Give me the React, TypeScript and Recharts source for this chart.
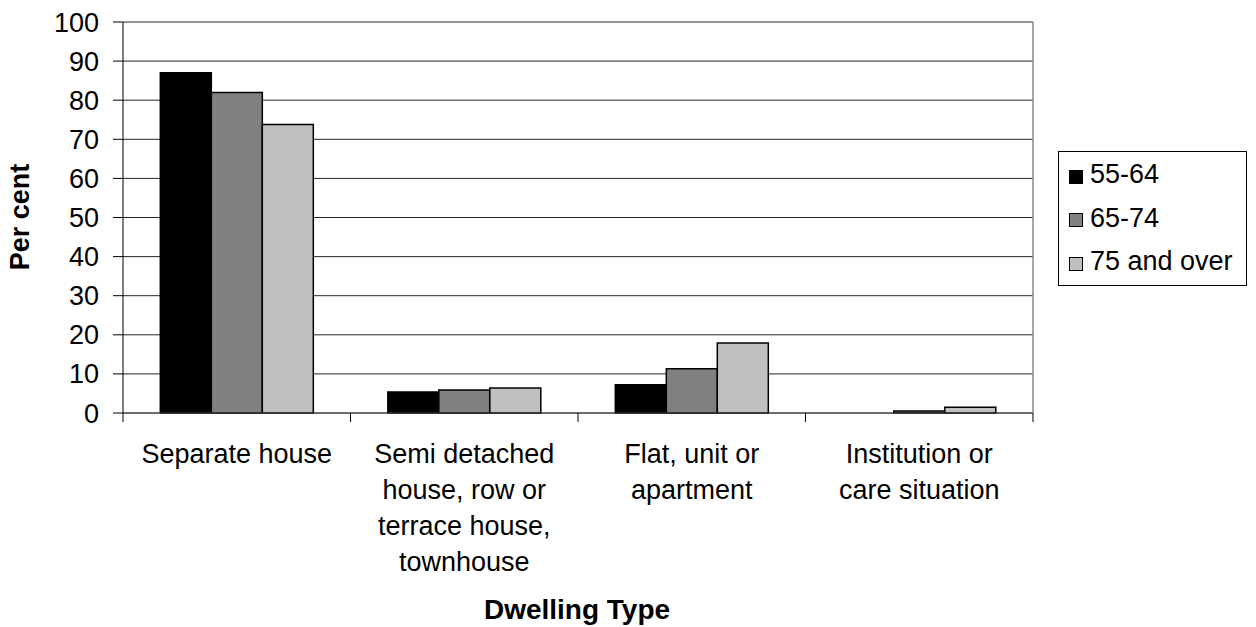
import React from "react";
import { BarChart, Bar, XAxis, YAxis, CartesianGrid } from "recharts";

const categories = [
  "Separate house",
  "Semi detached house, row or terrace house, townhouse",
  "Flat, unit or apartment",
  "Institution or care situation",
];
const categoryLines = [
  ["Separate house"],
  ["Semi detached", "house, row or", "terrace house,", "townhouse"],
  ["Flat, unit or", "apartment"],
  ["Institution or", "care situation"],
];
const age5564 = [87, 5.4, 7.2, 0];
const age6574 = [82, 5.9, 11.3, 0.5];
const age75plus = [73.8, 6.4, 17.9, 1.5];
const yTicks = [0, 10, 20, 30, 40, 50, 60, 70, 80, 90, 100];

const series = [
  { key: "a", name: "55-64", color: "#000000" },
  { key: "b", name: "65-74", color: "#808080" },
  { key: "c", name: "75 and over", color: "#c0c0c0" },
];

const data = categories.map((c, i) => ({
  cat: c,
  a: age5564[i],
  b: age6574[i],
  c: age75plus[i],
}));

const FONT = "Liberation Sans, Arial, sans-serif";
const FS = 27;

function CatTick(props: any) {
  const { x, y, payload, index, visibleTicksCount, width } = props;
  const n = visibleTicksCount || categories.length;
  const band = width ? width / n : 227.5;
  const idx = categories.indexOf(payload.value);
  const lines = categoryLines[idx] || [payload.value];
  return (
    <g>
      <line x1={x - band / 2} x2={x - band / 2} y1={y} y2={y + 9} stroke="#000" />
      {index === n - 1 && (
        <line x1={x + band / 2} x2={x + band / 2} y1={y} y2={y + 9} stroke="#000" />
      )}
      <text x={x} y={y} textAnchor="middle" fontFamily={FONT} fontSize={FS} fill="#000">
        {lines.map((l, i) => (
          <tspan key={i} x={x} dy={i === 0 ? 50 : 36}>
            {l}
          </tspan>
        ))}
      </text>
    </g>
  );
}

function LegendBox() {
  return (
    <div
      style={{
        position: "absolute",
        left: 1058,
        top: 151,
        border: "1px solid #000",
        width: 189,
        height: 135,
        boxSizing: "border-box",
        padding: "1px 0 0 10px",
        fontFamily: FONT,
        fontSize: FS,
        background: "#fff",
      }}
    >
      {series.map((s) => (
        <div key={s.key} style={{ display: "flex", alignItems: "center", height: 43.5 }}>
          <span
            style={{
              display: "inline-block",
              width: 14,
              height: 14,
              boxSizing: "border-box",
              background: s.color,
              border: "1.5px solid #000",
              marginRight: 7,
              marginTop: 4,
            }}
          />
          <span>{s.name}</span>
        </div>
      ))}
    </div>
  );
}

export default function App() {
  return (
    <div style={{ position: "absolute", left: 0, top: 0, width: 1256, height: 627, background: "#fff" }}>
      <BarChart
        width={1256}
        height={627}
        data={data}
        margin={{ top: 22, right: 213, bottom: 184, left: 63 }}
        barCategoryGap="16.4%"
        barGap={0}
      >
        <CartesianGrid vertical={false} stroke="#000" strokeOpacity={0.85} />
        <XAxis
          dataKey="cat"
          interval={0}
          tickLine={false}
          tickSize={0}
          tickMargin={0}
          axisLine={{ stroke: "#444" }}
          tick={<CatTick />}
          height={30}
        />
        <YAxis
          domain={[0, 100]}
          ticks={yTicks}
          interval={0}
          tickSize={10}
          tickLine={{ stroke: "#000" }}
          axisLine={{ stroke: "#000" }}
          tick={{ fontFamily: FONT, fontSize: FS, fill: "#000" }}
          tickMargin={14}
          width={60}
        />
        <YAxis
          yAxisId="right"
          orientation="right"
          domain={[0, 100]}
          tick={false}
          tickLine={false}
          axisLine={{ stroke: "#888", strokeWidth: 1.5 }}
          width={10}
        />
        {series.map((s) => (
          <Bar
            key={s.key}
            dataKey={s.key}
            name={s.name}
            fill={s.color}
            stroke="#000"
            strokeWidth={1.5}
            isAnimationActive={false}
          />
        ))}
        <text
          x={20}
          y={217}
          transform="rotate(-90 20 217)"
          textAnchor="middle"
          dominantBaseline="central"
          fontFamily={FONT}
          fontSize={FS}
          fontWeight="bold"
        >
          Per cent
        </text>
        <text
          x={577}
          y={619}
          textAnchor="middle"
          fontFamily={FONT}
          fontSize={28}
          fontWeight="bold"
        >
          Dwelling Type
        </text>
      </BarChart>
      <LegendBox />
    </div>
  );
}
